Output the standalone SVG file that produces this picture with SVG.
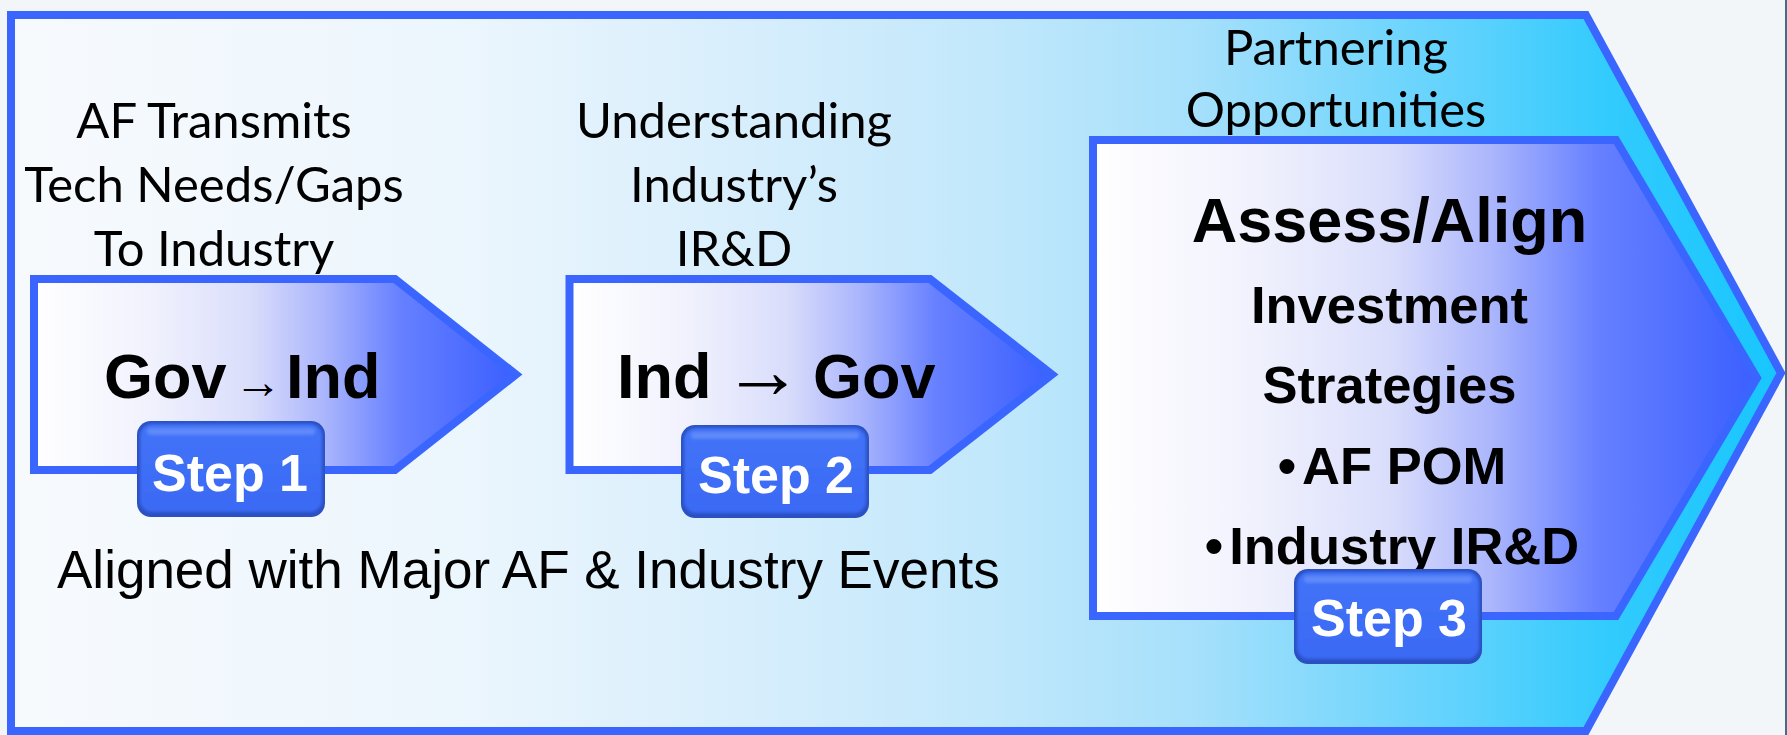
<svg xmlns="http://www.w3.org/2000/svg" width="1787" height="735" viewBox="0 0 1787 735">
  <defs>
    <linearGradient id="gOuter" x1="0" y1="0" x2="1" y2="0">
      <stop offset="0" stop-color="#f7fafd"/>
      <stop offset="0.25" stop-color="#ecf6fd"/>
      <stop offset="0.41" stop-color="#d8eefc"/>
      <stop offset="0.55" stop-color="#c2e8fb"/>
      <stop offset="0.67" stop-color="#a6e0fb"/>
      <stop offset="0.83" stop-color="#5ad1fd"/>
      <stop offset="0.9" stop-color="#33cbfd"/>
      <stop offset="1" stop-color="#17c6fe"/>
    </linearGradient>
    <linearGradient id="gChev" x1="0" y1="0" x2="1" y2="0">
      <stop offset="0" stop-color="#ffffff"/>
      <stop offset="0.25" stop-color="#f0f1fd"/>
      <stop offset="0.45" stop-color="#d9ddfb"/>
      <stop offset="0.6" stop-color="#abb6fc"/>
      <stop offset="0.76" stop-color="#6680ff"/>
      <stop offset="1" stop-color="#3b5fff"/>
    </linearGradient>
    <linearGradient id="gBadge" x1="0" y1="0" x2="0" y2="1">
      <stop offset="0" stop-color="#4273f8"/>
      <stop offset="1" stop-color="#3a69f4"/>
    </linearGradient>
    <filter id="soft" x="-10%" y="-10%" width="120%" height="120%">
      <feGaussianBlur stdDeviation="1.6"/>
    </filter>
    <filter id="hl" x="-10%" y="-50%" width="120%" height="200%">
      <feGaussianBlur stdDeviation="1.5"/>
    </filter>
  </defs>
  <style>
    .chev { fill: url(#gChev); stroke: #3a66ff; stroke-width: 8; stroke-linejoin: miter; }
    .cal { font-family: Lato, "Open Sans", sans-serif; font-size: 49px; fill: #000; text-anchor: middle; }
    .big { font-family: "Liberation Sans", Arial, sans-serif; font-weight: bold; fill: #000; }
    .arr { font-family: "Liberation Sans", Arial, sans-serif; font-weight: normal; }
    .mid { font-family: "Liberation Sans", Arial, sans-serif; font-weight: bold; font-size: 52.5px; fill: #000; text-anchor: middle; }
    .reg { font-family: "Liberation Sans", Arial, sans-serif; font-size: 53px; fill: #000; }
    .badgeEdge { fill: #2a50c2; }
    .badgeFill { fill: url(#gBadge); filter: url(#soft); }
    .badgeHl { fill: #6d93fb; opacity: 0.7; filter: url(#hl); }
    .stepTxt { font-family: "Liberation Sans", Arial, sans-serif; font-weight: bold; font-size: 52px; fill: #ffffff; text-anchor: middle; }
  </style>

  <rect x="0" y="0" width="1787" height="735" fill="#f3f6f9"/>
  <rect x="1785" y="0" width="2" height="735" fill="#4a6a88"/>

  <g id="outer">
    <polygon points="11,15 1586,15 1781,373 1586,731 11,731" fill="url(#gOuter)" stroke="#3a66ff" stroke-width="8"/>
  </g>

  <g id="connectors"></g>

  <g id="step1">
    <polygon class="chev" points="34,279 395,279 516,374.5 395,470 34,470"/>
    <text class="big" y="398"><tspan x="104" font-size="63">Gov</tspan><tspan class="arr" x="234" font-size="48">→</tspan><tspan x="286" font-size="63">Ind</tspan></text>
    <g id="badge1">
      <rect class="badgeEdge" x="137" y="421" width="188" height="96" rx="14"/>
      <rect class="badgeFill" x="140" y="424" width="182" height="88" rx="12"/>
      <rect class="badgeHl" x="147" y="428" width="168" height="7" rx="3"/>
      <text class="stepTxt" x="230" y="491">Step 1</text>
    </g>
  </g>

  <g id="step2">
    <polygon class="chev" points="569.5,279 930,279 1052,374.5 930,470 569.5,470"/>
    <text class="big" y="398"><tspan x="617" font-size="63">Ind</tspan><tspan class="arr" x="723" font-size="80">→</tspan><tspan x="813" font-size="63">Gov</tspan></text>
    <g id="badge2">
      <rect class="badgeEdge" x="681" y="425" width="188" height="93" rx="14"/>
      <rect class="badgeFill" x="684" y="428" width="182" height="85" rx="12"/>
      <rect class="badgeHl" x="691" y="432" width="168" height="7" rx="3"/>
      <text class="stepTxt" x="776" y="493">Step 2</text>
    </g>
  </g>

  <g id="step3">
    <polygon class="chev" points="1093,140 1616,140 1757,378 1616,616 1093,616" stroke-width="7.5"/>
    <text class="big" x="1389.5" y="242" font-size="63" text-anchor="middle">Assess/Align</text>
    <text class="mid" x="1389.5" y="323">Investment</text>
    <text class="mid" x="1389.5" y="403">Strategies</text>
    <text class="mid" x="1392" y="484">•<tspan dx="6">AF POM</tspan></text>
    <text class="mid" x="1392" y="564">•<tspan dx="6">Industry IR&amp;D</tspan></text>
    <g id="badge3">
      <rect class="badgeEdge" x="1294" y="569" width="188" height="95" rx="14"/>
      <rect class="badgeFill" x="1297" y="572" width="182" height="87" rx="12"/>
      <rect class="badgeHl" x="1304" y="576" width="168" height="7" rx="3"/>
      <text class="stepTxt" x="1389" y="636">Step 3</text>
    </g>
  </g>

  <g id="labels">
    <text class="cal" x="214" y="138">AF Transmits</text>
    <text class="cal" x="214" y="202">Tech Needs/Gaps</text>
    <text class="cal" x="214" y="266">To Industry</text>
    <text class="cal" x="734" y="138">Understanding</text>
    <text class="cal" x="734" y="202">Industry’s</text>
    <text class="cal" x="734" y="266">IR&amp;D</text>
    <text class="cal" x="1336" y="65">Partnering</text>
    <text class="cal" x="1336" y="127">Opportunities</text>
    <text class="reg" x="57" y="588">Aligned with Major AF &amp; Industry Events</text>
  </g>
</svg>
